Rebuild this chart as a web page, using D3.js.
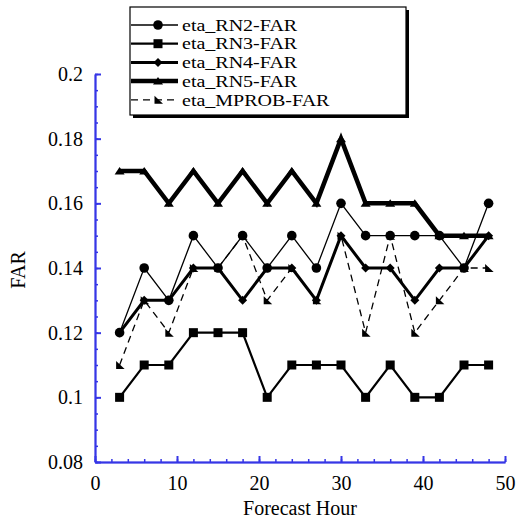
<!DOCTYPE html>
<html>
<head>
<meta charset="utf-8">
<script src="https://cdn.jsdelivr.net/npm/d3@7"></script>
<style>
  body { margin: 0; background: #fff; }
  svg { display: block; }
  text { font-family: "Liberation Serif", "Times New Roman", serif; font-size: 20px; fill: #000; }
</style>
</head>
<body>
<svg id="chart" width="517" height="523"></svg>
<script>
// ---- data ----
const hours = [3, 6, 9, 12, 15, 18, 21, 24, 27, 30, 33, 36, 39, 42, 45, 48];
const rn2   = [0.12, 0.14, 0.13, 0.15, 0.14, 0.15, 0.14, 0.15, 0.14, 0.16, 0.15, 0.15, 0.15, 0.15, 0.14, 0.16];
const rn3   = [0.10, 0.11, 0.11, 0.12, 0.12, 0.12, 0.10, 0.11, 0.11, 0.11, 0.10, 0.11, 0.10, 0.10, 0.11, 0.11];
const rn4   = [0.12, 0.13, 0.13, 0.14, 0.14, 0.13, 0.14, 0.14, 0.13, 0.15, 0.14, 0.14, 0.13, 0.14, 0.14, 0.15];
const rn5   = [0.17, 0.17, 0.16, 0.17, 0.16, 0.17, 0.16, 0.17, 0.16, 0.18, 0.16, 0.16, 0.16, 0.15, 0.15, 0.15];
const mprob = [0.11, 0.13, 0.12, 0.14, 0.14, 0.15, 0.13, 0.14, 0.13, 0.15, 0.12, 0.15, 0.12, 0.13, 0.14, 0.14];
const seriesNames = ["eta_RN2-FAR", "eta_RN3-FAR", "eta_RN4-FAR", "eta_RN5-FAR", "eta_MPROB-FAR"];
const xTicks = [0, 10, 20, 30, 40, 50];
const yTicks = [0.08, 0.1, 0.12, 0.14, 0.16, 0.18, 0.2];
const yTickLabels = ["0.08", "0.1", "0.12", "0.14", "0.16", "0.18", "0.2"];
const xTitle = "Forecast Hour";
const yTitle = "FAR";

(function () {
// ---- layout ----
const svg = d3.select("#chart");
const pl = 95, pr = 505, pt = 74, pb = 462;
const x = d3.scaleLinear().domain([0, 50]).range([pl, pr]);
const y = d3.scaleLinear().domain([0.08, 0.2]).range([pb, pt]);
const axisColor = "#3636e6";
const serif = '"Liberation Serif", "Times New Roman", serif';

// minor ticks
svg.append("g").attr("transform", `translate(0,${pb})`)
  .call(d3.axisBottom(x).tickValues(d3.range(0, 50.01, 2)).tickSizeInner(-3).tickSizeOuter(0).tickFormat(""))
  .call(g => g.selectAll("line,path").attr("stroke", axisColor).attr("stroke-width", 1.5));
svg.append("g").attr("transform", `translate(${pl},0)`)
  .call(d3.axisLeft(y).tickValues(d3.range(0, 25).map(i => 0.08 + i * 0.005)).tickSizeInner(-3).tickSizeOuter(0).tickFormat(""))
  .call(g => g.selectAll("line,path").attr("stroke", axisColor).attr("stroke-width", 1.5));

// major ticks
const xAxis = svg.append("g").attr("transform", `translate(0,${pb})`)
  .call(d3.axisBottom(x).tickValues(xTicks).tickSizeInner(-6).tickSizeOuter(0).tickPadding(14).tickFormat(d3.format("d")));
xAxis.attr("font-family", serif).attr("font-size", 20);
xAxis.selectAll("line,path").attr("stroke", axisColor).attr("stroke-width", 2);
xAxis.selectAll("text").style("font-family", serif).style("font-size", "20px").attr("fill", "#000");

const yAxis = svg.append("g").attr("transform", `translate(${pl},0)`)
  .call(d3.axisLeft(y).tickValues(yTicks).tickSizeInner(-6).tickSizeOuter(0).tickPadding(12)
    .tickFormat((d, i) => yTickLabels[i]));
yAxis.attr("font-family", serif).attr("font-size", 20);
yAxis.selectAll("line,path").attr("stroke", axisColor).attr("stroke-width", 2);
yAxis.selectAll("text").style("font-family", serif).style("font-size", "20px").attr("fill", "#000");

// titles
svg.append("text").attr("x", (pl + pr) / 2).attr("y", 515).attr("text-anchor", "middle").text(xTitle);
svg.append("text").attr("transform", `translate(25,270) rotate(-90)`).attr("text-anchor", "middle").text(yTitle);

// ---- marker shapes ----
function drawMarker(g, type, cx, cy) {
  if (type === "circle") {
    g.append("circle").attr("cx", cx).attr("cy", cy).attr("r", 4.8).attr("fill", "#000");
  } else if (type === "square") {
    g.append("rect").attr("x", cx - 4.5).attr("y", cy - 4.5).attr("width", 9).attr("height", 9).attr("fill", "#000");
  } else if (type === "diamond") {
    g.append("path").attr("d", `M${cx},${cy-4.5}L${cx+4.5},${cy}L${cx},${cy+4.5}L${cx-4.5},${cy}Z`).attr("fill", "#000");
  } else if (type === "triangle") {
    g.append("path").attr("d", `M${cx},${cy-4}L${cx+5},${cy+3.5}L${cx-5},${cy+3.5}Z`).attr("fill", "#000");
  } else if (type === "arrow") {
    g.append("path").attr("d", `M${cx-3.5},${cy-4}L${cx+5},${cy+4}L${cx-3.5},${cy+4}Z`).attr("fill", "#000");
  }
}

const series = [
  { name: seriesNames[0], values: rn2,   width: 1.3, dash: null,  marker: "circle" },
  { name: seriesNames[1], values: rn3,   width: 2.2, dash: null,  marker: "square" },
  { name: seriesNames[2], values: rn4,   width: 3,   dash: null,  marker: "diamond" },
  { name: seriesNames[3], values: rn5,   width: 4.5, dash: null,  marker: "triangle" },
  { name: seriesNames[4], values: mprob, width: 1.3, dash: "7,5", marker: "arrow" }
];

const line = d3.line().x(d => x(d[0])).y(d => y(d[1]));
const plot = svg.append("g");
[1, 3, 2, 4, 0].forEach(i => {
  const s = series[i];
  const pts = hours.map((h, j) => [h, s.values[j]]);
  plot.append("path").datum(pts).attr("d", line).attr("fill", "none")
    .attr("stroke", "#000").attr("stroke-width", s.width)
    .attr("stroke-linejoin", "miter").attr("stroke-dasharray", s.dash);
  const mg = plot.append("g");
  pts.forEach(p => drawMarker(mg, s.marker, x(p[0]), y(p[1])));
});

// ---- legend ----
const lg = svg.append("g");
lg.append("rect").attr("x", 133).attr("y", 10).attr("width", 276).attr("height", 108).attr("fill", "#000");
lg.append("rect").attr("x", 130).attr("y", 7).attr("width", 276).attr("height", 108)
  .attr("fill", "#fff").attr("stroke", "#000").attr("stroke-width", 1.2);
series.forEach((s, i) => {
  const ly = 25 + i * 18.7;
  lg.append("line").attr("x1", 131).attr("x2", 178).attr("y1", ly).attr("y2", ly)
    .attr("stroke", "#000").attr("stroke-width", s.width).attr("stroke-dasharray", s.dash);
  drawMarker(lg, s.marker, 158, ly);
  const t = lg.append("text").attr("x", 182).attr("y", ly).attr("dy", "0.36em")
    .style("font-size", "16px").text(s.name);
  const w = t.node().getComputedTextLength();
  t.attr("textLength", w * 1.25).attr("lengthAdjust", "spacingAndGlyphs");
});
})();
</script>
</body>
</html>
